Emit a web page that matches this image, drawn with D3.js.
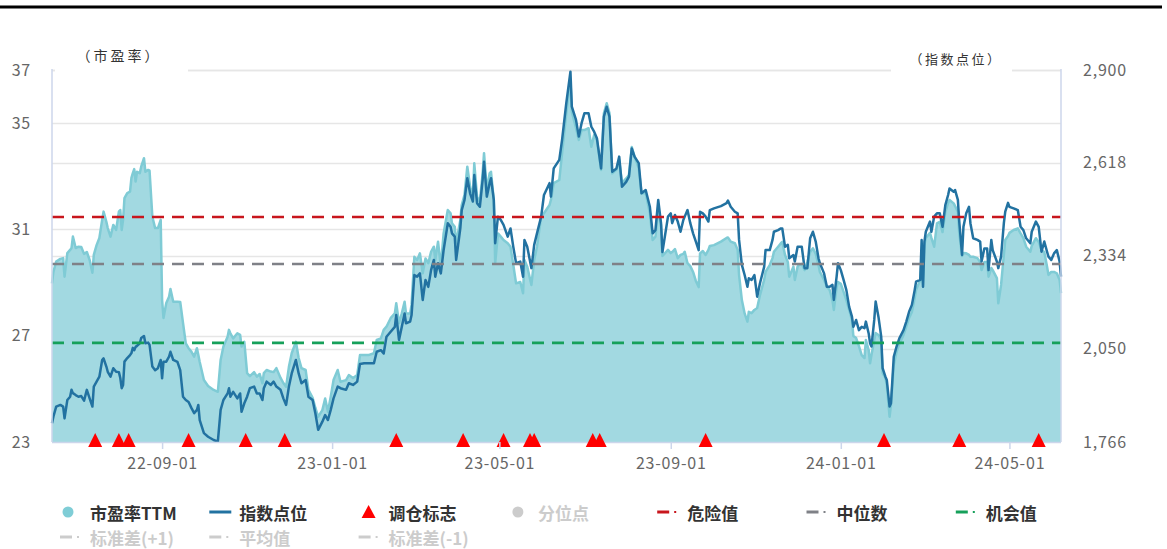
<!DOCTYPE html>
<html>
<head>
<meta charset="utf-8">
<script src="https://cdn.jsdelivr.net/npm/d3@7/dist/d3.min.js"></script>
<style>
  html, body { margin: 0; padding: 0; background: #fff; }
  svg { display: block; }
  text { font-family: "Noto Sans CJK SC", "Noto Sans", sans-serif; }
</style>
</head>
<body>
<svg id="chart" width="1167" height="549"></svg>
<script>
// ---- trading dates ----
const dates = [
  "2022-06-14","2022-06-15","2022-06-17","2022-06-20","2022-06-22","2022-06-23","2022-06-25","2022-06-27","2022-06-28","2022-06-29",
  "2022-07-01","2022-07-03","2022-07-05","2022-07-07","2022-07-09","2022-07-11","2022-07-13","2022-07-14","2022-07-16","2022-07-18",
  "2022-07-20","2022-07-21","2022-07-23","2022-07-24","2022-07-26","2022-07-28","2022-07-30","2022-08-01","2022-08-02","2022-08-03",
  "2022-08-04","2022-08-05","2022-08-07","2022-08-09","2022-08-10","2022-08-11","2022-08-12","2022-08-13","2022-08-14","2022-08-16",
  "2022-08-17","2022-08-19","2022-08-20","2022-08-22","2022-08-23","2022-08-25","2022-08-27","2022-08-29","2022-08-31","2022-09-01",
  "2022-09-02","2022-09-04","2022-09-06","2022-09-07","2022-09-09","2022-09-12","2022-09-14","2022-09-16","2022-09-18","2022-09-20",
  "2022-09-22","2022-09-24","2022-09-26","2022-09-27","2022-09-28","2022-10-01","2022-10-04","2022-10-08","2022-10-11","2022-10-13",
  "2022-10-15","2022-10-18","2022-10-19","2022-10-20","2022-10-22","2022-10-25","2022-10-27","2022-10-28","2022-10-30","2022-11-01",
  "2022-11-03","2022-11-06","2022-11-08","2022-11-10","2022-11-12","2022-11-13","2022-11-15","2022-11-18","2022-11-20","2022-11-22",
  "2022-11-25","2022-11-27","2022-11-29","2022-12-01","2022-12-03","2022-12-06","2022-12-08","2022-12-10","2022-12-13","2022-12-15",
  "2022-12-18","2022-12-20","2022-12-22","2022-12-25","2022-12-27","2022-12-29","2022-12-31","2023-01-02","2023-01-05","2023-01-07",
  "2023-01-11","2023-01-13","2023-01-16","2023-01-19","2023-01-21","2023-01-24","2023-01-27","2023-01-31","2023-02-02","2023-02-05",
  "2023-02-07","2023-02-09","2023-02-12","2023-02-15","2023-02-16","2023-02-18","2023-02-20","2023-02-22","2023-02-23","2023-02-26",
  "2023-02-27","2023-03-01","2023-03-03","2023-03-05","2023-03-07","2023-03-09","2023-03-11","2023-03-13","2023-03-15","2023-03-16",
  "2023-03-18","2023-03-20","2023-03-22","2023-03-25","2023-03-27","2023-03-28","2023-03-30","2023-03-31","2023-04-03","2023-04-04",
  "2023-04-06","2023-04-08","2023-04-10","2023-04-12","2023-04-13","2023-04-15","2023-04-17","2023-04-19","2023-04-20","2023-04-22",
  "2023-04-24","2023-04-25","2023-04-27","2023-04-28","2023-04-30","2023-05-02","2023-05-04","2023-05-07","2023-05-09","2023-05-11",
  "2023-05-13","2023-05-16","2023-05-18","2023-05-19","2023-05-21","2023-05-24","2023-05-26","2023-05-28","2023-05-31","2023-06-02",
  "2023-06-06","2023-06-07","2023-06-09","2023-06-13","2023-06-15","2023-06-18","2023-06-21","2023-06-22","2023-06-25","2023-06-27",
  "2023-06-29","2023-07-01","2023-07-04","2023-07-06","2023-07-08","2023-07-10","2023-07-13","2023-07-15","2023-07-17","2023-07-19",
  "2023-07-21","2023-07-24","2023-07-26","2023-07-28","2023-07-31","2023-08-02","2023-08-04","2023-08-06","2023-08-09","2023-08-11",
  "2023-08-14","2023-08-17","2023-08-19","2023-08-21","2023-08-23","2023-08-25","2023-08-26","2023-08-30","2023-09-01","2023-09-02",
  "2023-09-04","2023-09-06","2023-09-08","2023-09-10","2023-09-11","2023-09-13","2023-09-15","2023-09-17","2023-09-19","2023-09-21",
  "2023-09-22","2023-09-24","2023-09-26","2023-09-28","2023-09-29","2023-10-02","2023-10-07","2023-10-11","2023-10-12","2023-10-14",
  "2023-10-17","2023-10-19","2023-10-20","2023-10-22","2023-10-24","2023-10-26","2023-10-27","2023-10-29","2023-10-31","2023-11-02",
  "2023-11-04","2023-11-07","2023-11-08","2023-11-11","2023-11-13","2023-11-14","2023-11-17","2023-11-19","2023-11-20","2023-11-22",
  "2023-11-24","2023-11-25","2023-11-28","2023-11-29","2023-12-01","2023-12-02","2023-12-04","2023-12-06","2023-12-08","2023-12-10",
  "2023-12-12","2023-12-14","2023-12-16","2023-12-17","2023-12-20","2023-12-22","2023-12-24","2023-12-26","2023-12-27","2023-12-29",
  "2023-12-30","2024-01-01","2024-01-03","2024-01-05","2024-01-07","2024-01-09","2024-01-10","2024-01-12","2024-01-14","2024-01-16",
  "2024-01-18","2024-01-19","2024-01-21","2024-01-22","2024-01-23","2024-01-25","2024-01-26","2024-01-28","2024-01-30","2024-01-31",
  "2024-02-02","2024-02-03","2024-02-05","2024-02-06","2024-02-08","2024-02-10","2024-02-12","2024-02-15","2024-02-17","2024-02-19",
  "2024-02-21","2024-02-23","2024-02-24","2024-02-27","2024-02-28","2024-02-29","2024-03-01","2024-03-02","2024-03-05","2024-03-06",
  "2024-03-08","2024-03-10","2024-03-12","2024-03-14","2024-03-16","2024-03-18","2024-03-19","2024-03-22","2024-03-23","2024-03-25",
  "2024-03-26","2024-03-28","2024-03-29","2024-03-31","2024-04-02","2024-04-03","2024-04-05","2024-04-08","2024-04-10","2024-04-11",
  "2024-04-13","2024-04-15","2024-04-16","2024-04-18","2024-04-19","2024-04-22","2024-04-23","2024-04-25","2024-04-27","2024-04-28",
  "2024-04-30","2024-05-01","2024-05-04","2024-05-07","2024-05-09","2024-05-11","2024-05-13","2024-05-16","2024-05-17","2024-05-20",
  "2024-05-22","2024-05-24","2024-05-26","2024-05-28","2024-05-29","2024-05-31","2024-06-02","2024-06-04","2024-06-06","2024-06-07"
];

// ---- P/E TTM (left axis) ----
const peTTM = [
  28.97,29.40,29.79,29.89,29.92,29.22,30.11,30.23,30.30,30.73,
  30.30,30.35,30.34,30.08,30.15,29.85,29.37,30.04,30.41,30.68,
  31.36,31.67,31.29,31.05,30.73,31.17,30.98,31.67,31.73,30.98,
  31.36,32.18,32.37,32.42,32.94,33.12,33.27,32.80,33.17,33.12,
  33.36,33.68,33.17,33.24,33.21,31.48,31.05,31.05,31.36,28.34,
  27.67,28.23,28.47,28.76,28.28,28.28,28.27,27.48,26.71,26.53,
  26.40,26.21,26.53,26.27,26.01,25.33,25.11,24.96,24.89,26.09,
  26.59,26.96,27.22,27.09,26.90,27.09,27.03,26.59,26.77,25.59,
  25.48,25.63,25.46,25.56,25.21,25.59,25.71,25.65,25.63,25.78,
  25.41,25.22,25.08,25.83,26.34,26.77,26.16,25.78,25.71,24.96,
  24.66,24.28,23.95,24.20,24.64,24.14,24.70,25.33,25.71,25.27,
  25.33,25.52,25.41,25.52,26.27,26.27,26.27,26.34,26.84,26.90,
  27.22,27.34,27.66,27.84,28.22,27.47,27.84,28.28,27.84,27.84,
  28.16,29.97,29.85,30.10,29.35,29.91,29.73,30.16,30.35,29.85,
  30.54,29.60,30.85,31.73,31.61,31.23,31.10,30.48,31.36,31.92,
  32.30,33.36,32.61,32.23,33.49,32.23,32.04,33.11,33.87,32.48,
  33.11,33.17,32.11,29.73,30.85,30.73,30.60,30.48,30.35,29.66,
  28.97,29.02,28.60,29.85,29.60,28.91,29.85,30.35,31.48,31.61,
  31.92,32.11,32.74,32.86,33.87,35.37,36.62,35.42,34.82,34.37,
  34.74,34.74,34.81,34.11,34.55,34.37,33.24,35.37,35.75,35.38,
  33.11,33.24,33.61,32.74,32.92,33.05,34.10,33.74,33.31,32.36,
  32.36,31.61,30.60,30.73,31.73,31.17,30.00,30.23,30.11,30.15,
  30.26,29.92,30.04,30.08,30.16,29.73,29.62,29.40,29.06,28.83,
  30.10,30.19,30.04,30.23,30.38,30.41,30.54,30.68,30.70,30.54,
  30.48,30.23,29.29,28.34,27.84,27.53,27.90,27.85,27.97,28.04,
  28.53,29.10,29.40,29.66,29.92,30.16,30.35,30.48,30.53,30.04,
  29.77,29.22,29.60,29.10,29.60,29.66,29.70,29.47,29.77,30.15,
  30.29,30.08,29.66,29.40,29.10,28.84,28.72,28.34,27.97,28.84,
  29.02,28.95,28.65,28.34,27.97,27.59,26.99,26.91,26.61,26.27,
  26.16,26.84,26.46,25.96,26.27,26.84,27.10,27.03,26.84,25.59,
  25.41,25.15,23.95,24.39,25.90,26.39,26.69,27.03,27.34,27.67,
  27.89,28.42,28.72,29.10,29.97,28.91,30.41,30.68,30.87,30.68,
  30.35,31.23,31.29,30.90,31.66,31.99,32.11,31.98,31.88,31.66,
  30.85,30.00,30.11,30.10,30.04,29.97,29.97,29.92,29.77,29.47,
  29.77,29.77,29.22,29.55,29.47,29.17,28.22,28.91,30.04,30.60,
  30.75,30.87,30.98,31.04,30.85,30.67,30.35,30.16,30.38,30.67,
  30.53,30.23,30.15,29.60,29.29,29.40,29.40,29.35,29.10,28.60
];

// ---- index level (right axis) ----
const indexPts = [
  1823,1843,1874,1879,1874,1838,1894,1904,1925,1915,
  1909,1904,1906,1892,1925,1899,1874,1935,1950,1965,
  2016,2021,1996,1980,1965,1991,1980,1979,1961,1930,
  1940,2011,2022,2031,2037,2053,2046,2056,2059,2067,
  2083,2089,2067,2069,2062,1996,1985,1991,2016,1960,
  2011,2011,2026,2041,2016,2010,1985,1904,1894,1888,
  1870,1854,1864,1879,1833,1793,1782,1772,1767,1864,
  1894,1914,1930,1904,1919,1899,1914,1858,1884,1904,
  1930,1935,1914,1914,1894,1930,1950,1940,1950,1935,
  1925,1899,1879,1935,1975,2016,1975,1945,1955,1904,
  1894,1853,1803,1828,1848,1833,1864,1899,1935,1930,
  1925,1945,1940,1950,2004,2006,2006,2006,2041,2046,
  2036,2087,2102,2117,2153,2077,2117,2158,2128,2133,
  2153,2275,2270,2280,2199,2260,2239,2290,2321,2270,
  2311,2280,2351,2433,2422,2402,2392,2321,2418,2473,
  2504,2570,2524,2499,2580,2494,2483,2565,2620,2514,
  2555,2570,2504,2372,2453,2443,2428,2392,2417,2361,
  2311,2316,2270,2382,2361,2296,2367,2402,2453,2519,
  2555,2514,2600,2626,2687,2798,2895,2788,2748,2697,
  2738,2768,2768,2727,2712,2692,2600,2758,2788,2758,
  2590,2600,2636,2544,2559,2575,2661,2636,2616,2524,
  2534,2483,2402,2412,2504,2433,2345,2453,2463,2433,
  2458,2438,2407,2443,2453,2473,2433,2402,2377,2351,
  2468,2463,2453,2438,2473,2478,2485,2494,2502,2483,
  2468,2463,2382,2306,2275,2239,2265,2260,2275,2209,
  2250,2300,2351,2351,2382,2407,2412,2417,2417,2361,
  2367,2326,2336,2316,2361,2361,2361,2296,2296,2387,
  2407,2377,2326,2311,2280,2239,2239,2245,2199,2270,
  2311,2290,2260,2229,2178,2148,2117,2138,2107,2117,
  2113,2133,2097,2067,2057,2138,2194,2148,2087,1991,
  1965,1955,1874,1884,2026,2057,2082,2107,2133,2163,
  2184,2229,2255,2260,2382,2239,2377,2407,2438,2407,
  2453,2463,2463,2422,2488,2519,2539,2529,2534,2504,
  2438,2336,2422,2463,2483,2433,2387,2382,2377,2316,
  2356,2356,2290,2382,2351,2316,2296,2331,2433,2468,
  2495,2483,2478,2473,2422,2412,2387,2372,2407,2438,
  2422,2346,2377,2346,2331,2321,2341,2351,2316,2270
];

// ---- rebalance markers ----
const rebalanceDates = [
  "2022-07-15","2022-08-01","2022-08-08","2022-09-20","2022-10-31","2022-11-28",
  "2023-02-16","2023-04-05","2023-05-04","2023-05-23","2023-05-26","2023-07-07",
  "2023-07-12","2023-09-26","2024-02-01","2024-03-26","2024-05-22"
];

// ---- reference levels on the P/E axis ----
const levelNames  = ["危险值", "中位数", "机会值"];
const levelValues = [31.47, 29.70, 26.73];
const levelColors = ["#c8161d", "#7f8187", "#16a05a"];

// ---- axis ticks ----
const peTicks    = [23, 27, 31, 35, 37];
const indexTicks = [1766, 2050, 2334, 2618, 2900];
const xTickDates = ["2022-09-01", "2023-01-01", "2023-05-01", "2023-09-01", "2024-01-01", "2024-05-01"];

// ---- legend ----
const legendRow1 = ["市盈率TTM", "指数点位", "调仓标志", "分位点", "危险值", "中位数", "机会值"];
const legendRow2 = ["标准差(+1)", "平均值", "标准差(-1)"];

// ================= drawing =================
const parse = d3.timeParse("%Y-%m-%d");
const rows = dates.map((d, i) => ({ date: parse(d), pe: peTTM[i], idx: indexPts[i] }));

const plotL = 52, plotR = 1061, plotT = 70, plotB = 442;
const svg = d3.select("#chart");

svg.append("rect").attr("width", 1167).attr("height", 549).attr("fill", "#fff");

// heavy rule across the top
svg.append("line").attr("x1", 0).attr("x2", 1162).attr("y1", 7).attr("y2", 7)
  .attr("stroke", "#000").attr("stroke-width", 3);

const x = d3.scaleTime().domain(d3.extent(rows, d => d.date)).range([plotL, plotR]);
const yPE = d3.scaleLinear().domain([23, 37]).range([plotB, plotT]);
const yIdx = d3.scaleLinear().domain([1766, 2900]).range([plotB, plotT]);

// gridlines from both axes
const gridYs = peTicks.filter(v => v !== 23).map(v => yPE(v))
  .concat(indexTicks.filter(v => v !== 1766).map(v => yIdx(v)));
svg.append("g").selectAll("line").data(gridYs).join("line")
  .attr("x1", plotL).attr("x2", plotR)
  .attr("y1", d => Math.round(d) + 0.5).attr("y2", d => Math.round(d) + 0.5)
  .attr("stroke", "#e6e6e6").attr("stroke-width", 1.5);

// P/E area
const area = d3.area().x(d => x(d.date)).y0(yPE(23)).y1(d => yPE(d.pe));
svg.append("path").datum(rows).attr("d", area).attr("fill", "#a2d9e1");
svg.append("path").datum(rows)
  .attr("d", d3.line().x(d => x(d.date)).y(d => yPE(d.pe)))
  .attr("fill", "none").attr("stroke", "#7fcbd5").attr("stroke-width", 2.5)
  .attr("stroke-linejoin", "round");

// index line
svg.append("path").datum(rows)
  .attr("d", d3.line().x(d => x(d.date)).y(d => yIdx(d.idx)))
  .attr("fill", "none").attr("stroke", "#2272a1").attr("stroke-width", 2.5)
  .attr("stroke-linejoin", "round");

// reference levels
svg.append("g").selectAll("line").data(levelValues).join("line")
  .attr("x1", plotL).attr("x2", plotR)
  .attr("y1", d => yPE(d)).attr("y2", d => yPE(d))
  .attr("stroke", (d, i) => levelColors[i]).attr("stroke-width", 2.6)
  .attr("stroke-dasharray", "12,8");

// axis lines
const axisColor = "#ccd6eb";
svg.append("line").attr("x1", plotL).attr("x2", plotL).attr("y1", plotT - 1).attr("y2", plotB)
  .attr("stroke", axisColor).attr("stroke-width", 1.5);
svg.append("line").attr("x1", plotR).attr("x2", plotR).attr("y1", plotT - 1).attr("y2", plotB)
  .attr("stroke", axisColor).attr("stroke-width", 1.5);
svg.append("line").attr("x1", plotL).attr("x2", plotR).attr("y1", plotB + 0.5).attr("y2", plotB + 0.5)
  .attr("stroke", axisColor).attr("stroke-width", 1.5);

// rebalance triangles along the bottom
const tri = (cx) => `M${cx - 7},447L${cx + 7},447L${cx},433Z`;
svg.append("g").selectAll("path").data(rebalanceDates).join("path")
  .attr("d", d => tri(x(parse(d))))
  .attr("fill", "#ff0000");

// axes
const labelFont = (g) => g.selectAll("text")
  .attr("font-family", "'Noto Sans', sans-serif").attr("font-size", 16)
  .attr("letter-spacing", 0.8).attr("fill", "#666");

const gL = svg.append("g").attr("transform", `translate(${plotL},0)`)
  .call(d3.axisLeft(yPE).tickValues(peTicks).tickSize(0).tickPadding(21).tickFormat(d3.format("d")));
gL.select(".domain").remove();
labelFont(gL);

const gR = svg.append("g").attr("transform", `translate(${plotR},0)`)
  .call(d3.axisRight(yIdx).tickValues(indexTicks).tickSize(0).tickPadding(22).tickFormat(d3.format(",")));
gR.select(".domain").remove();
labelFont(gR);

const gB = svg.append("g").attr("transform", `translate(0,${plotB})`)
  .call(d3.axisBottom(x).tickValues(xTickDates.map(parse)).tickSize(7).tickPadding(9)
    .tickFormat(d3.timeFormat("%y-%m-%d")));
gB.select(".domain").remove();
gB.selectAll(".tick line").attr("stroke", axisColor).attr("stroke-width", 1.5);
labelFont(gB);

// axis titles on white plates
svg.append("rect").attr("x", 55).attr("y", 40).attr("width", 133).attr("height", 33).attr("fill", "#fff");
svg.append("text").attr("x", 119).attr("y", 55).attr("text-anchor", "middle")
  .attr("dominant-baseline", "central").attr("font-size", 14).attr("letter-spacing", 3)
  .attr("fill", "#333").text("（市盈率）");
svg.append("rect").attr("x", 891).attr("y", 40).attr("width", 121).attr("height", 33).attr("fill", "#fff");
svg.append("text").attr("x", 956).attr("y", 58).attr("text-anchor", "middle")
  .attr("dominant-baseline", "central").attr("font-size", 13).attr("letter-spacing", 2.5)
  .attr("fill", "#333").text("（指数点位）");

// legend
const legend = svg.append("g").attr("font-size", 17).attr("font-weight", "bold");
const itemW = 149.3, lx0 = 60;
const off = "#cccccc";

function dashIcon(g, cx, cy, color) {
  g.append("line").attr("x1", cx).attr("x2", cx + 12).attr("y1", cy).attr("y2", cy)
    .attr("stroke", color).attr("stroke-width", 3);
  g.append("rect").attr("x", cx + 17).attr("y", cy - 1).attr("width", 2).attr("height", 2).attr("fill", color);
}

legendRow1.forEach((name, i) => {
  const gx = lx0 + i * itemW, gy = 512;
  const g = legend.append("g");
  let color = "#333";
  if (i === 0) g.append("circle").attr("cx", gx + 8).attr("cy", gy).attr("r", 5.5).attr("fill", "#7fcdd6");
  if (i === 1) g.append("line").attr("x1", gx).attr("x2", gx + 22).attr("y1", gy).attr("y2", gy)
    .attr("stroke", "#2272a1").attr("stroke-width", 3);
  if (i === 2) g.append("path").attr("d", `M${gx + 3},${gy + 6}L${gx + 17},${gy + 6}L${gx + 10},${gy - 7}Z`).attr("fill", "#ff0000");
  if (i === 3) { g.append("circle").attr("cx", gx + 10).attr("cy", gy).attr("r", 5.5).attr("fill", off); color = off; }
  if (i >= 4) dashIcon(g, gx, gy, levelColors[i - 4]);
  g.append("text").attr("x", gx + 30).attr("y", gy).attr("dominant-baseline", "central")
    .attr("fill", color).text(name);
});
legendRow2.forEach((name, i) => {
  const gx = lx0 + i * itemW, gy = 537;
  const g = legend.append("g");
  dashIcon(g, gx, gy, off);
  g.append("text").attr("x", gx + 30).attr("y", gy).attr("dominant-baseline", "central")
    .attr("fill", off).text(name);
});
</script>
</body>
</html>
